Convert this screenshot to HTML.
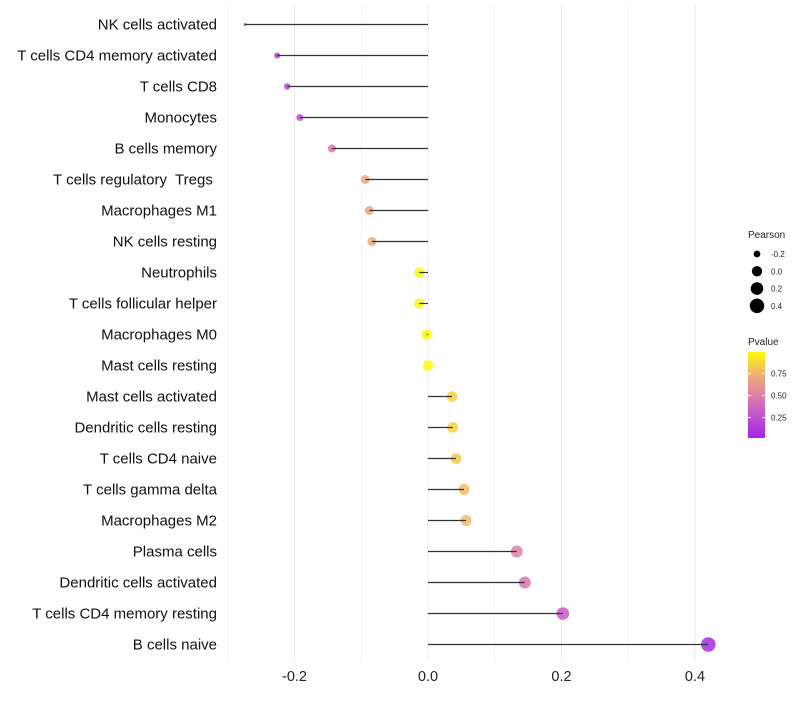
<!DOCTYPE html>
<html><head><meta charset="utf-8"><style>
body{margin:0;background:#fff;font-family:"Liberation Sans",sans-serif}
text{white-space:pre}
</style></head><body>
<svg id="c" width="800" height="700"></svg>
<script>
const categories=["NK cells activated","T cells CD4 memory activated","T cells CD8","Monocytes","B cells memory","T cells regulatory  Tregs ","Macrophages M1","NK cells resting","Neutrophils","T cells follicular helper","Macrophages M0","Mast cells resting","Mast cells activated","Dendritic cells resting","T cells CD4 naive","T cells gamma delta","Macrophages M2","Plasma cells","Dendritic cells activated","T cells CD4 memory resting","B cells naive"];
const pearson=[-0.274,-0.226,-0.211,-0.192,-0.144,-0.094,-0.088,-0.084,-0.013,-0.013,-0.002,0.0,0.036,0.037,0.042,0.054,0.057,0.133,0.145,0.202,0.42];
const pvalue=[0.05,0.15,0.2,0.25,0.45,0.7,0.68,0.7,0.97,0.97,0.99,0.99,0.85,0.85,0.83,0.78,0.78,0.5,0.45,0.3,0.05];
const xTicks=[-0.2,0.0,0.2,0.4];
const sizeTicks=[-0.2,0.0,0.2,0.4];
const pTicks=[0.25,0.5,0.75];
const NS="http://www.w3.org/2000/svg",svg=document.getElementById('c');
const pMin=Math.min(...pearson),pMax=Math.max(...pearson);
const X=v=>428+v*667.5, Y=i=>24.5+i*31, R=v=>1.5+5.8*Math.sqrt(Math.max(0,(v-pMin)/(pMax-pMin)));
function mk(t,a,p){const e=document.createElementNS(NS,t);for(const k in a)e.setAttribute(k,a[k]);(p||svg).appendChild(e);return e;}
const stops=[[0,[160,32,240]],[0.5,[222,128,168]],[0.75,[240,178,112]],[1,[255,255,0]]];
function col(p){
 for(let i=1;i<stops.length;i++){if(p<=stops[i][0]){const a=stops[i-1],b=stops[i];const t=(p-a[0])/(b[0]-a[0]);
  const c=a[1].map((v,j)=>Math.round(v+(b[1][j]-v)*t));return 'rgb('+c.join(',')+')';}}
 return 'rgb(255,255,0)';}
for(let k=-3;k<=4;k++){const v=k/10;const g=mk('line',{x1:X(v),x2:X(v),y1:5,y2:662,stroke:'#ebebeb','stroke-width':k%2==0?1:0.6});
}
xTicks.forEach(v=>{const t=mk('text',{x:X(v),y:681,'text-anchor':'middle','font-size':14.5,fill:'#222'});t.textContent=v.toFixed(1);
});
categories.forEach((c,i)=>{
 const t=mk('text',{x:217,y:Y(i)+5,'text-anchor':'end','font-size':15,fill:'#111'});t.textContent=c;
 
 const p=mk('circle',{cx:X(pearson[i]),cy:Y(i),r:R(pearson[i]),fill:col(pvalue[i]),'fill-opacity':0.85});
 
 const l=mk('line',{x1:X(0),x2:X(pearson[i]),y1:Y(i),y2:Y(i),stroke:'#333','stroke-width':1.2});
 
});
let t=mk('text',{x:748,y:238,'font-size':10,fill:'#222'});t.textContent='Pearson';

sizeTicks.forEach((v,i)=>{const y=254+i*17.3;
 const c=mk('circle',{cx:757,cy:y,r:R(v),fill:'#000'});
 const l=mk('text',{x:771,y:y+3,'font-size':8,fill:'#222'});l.textContent=v.toFixed(1);
 });
t=mk('text',{x:748,y:345,'font-size':10,fill:'#222'});t.textContent='Pvalue';

const defs=mk('defs',{});const gr=mk('linearGradient',{id:'g',x1:0,y1:1,x2:0,y2:0},defs);
[0,0.25,0.5,0.75,1].forEach(o=>mk('stop',{offset:o,'stop-color':col(0.02+o*0.97)},gr));
const bar=mk('rect',{x:748,y:352,width:17,height:86,fill:'url(#g)'});

const PY=p=>438-(p-0.02)/0.97*86;
pTicks.forEach(p=>{mk('line',{x1:748,x2:751,y1:PY(p),y2:PY(p),stroke:'#fff'});mk('line',{x1:762,x2:765,y1:PY(p),y2:PY(p),stroke:'#fff'});
 const l=mk('text',{x:771,y:PY(p)+3,'font-size':8,fill:'#222'});l.textContent=p.toFixed(2);
 });
</script></body></html>
